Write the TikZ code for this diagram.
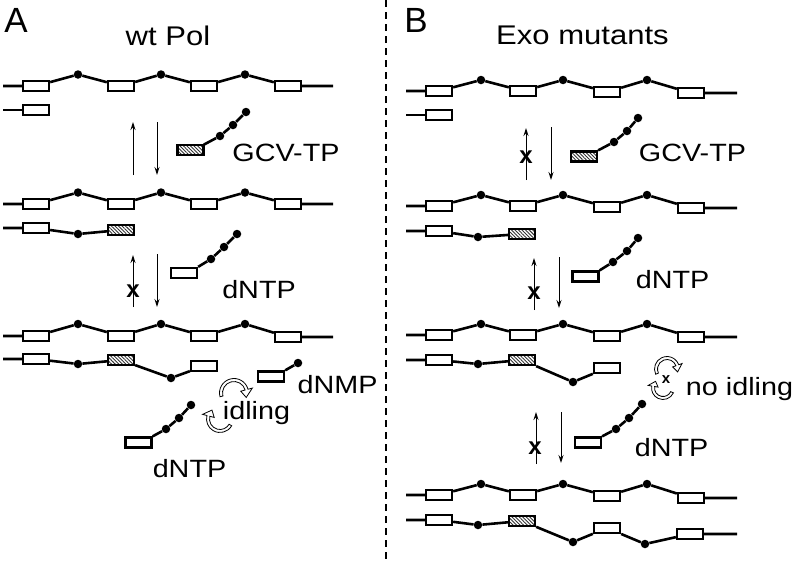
\documentclass[tikz,border=0pt]{standalone}
\usepackage{fontspec}
\setmainfont{Liberation Sans}
\usetikzlibrary{arrows.meta,patterns.meta}

\begin{document}
\begin{tikzpicture}[x = 1pt, y = -1pt,
						nt/.style = {rectangle, draw, line width = 2.5pt, 
						minimum width = 25.8pt, minimum height = 9.8pt, inner sep = 0pt},
						gcv/.style = {nt, pattern = {Lines[angle = -45, distance = 2.5pt, 
						line width = 0.9pt]}, pattern color = black!80},
						bead/.style = {circle, fill, inner sep = 0pt, minimum size = 8.5pt},
						strand/.style = {line width = 2.6pt},
						rxn/.style = {line width = 1pt, -{Stealth[length = 8pt, width = 5pt]}},
						blocked/.style = {font = \fontsize{24}{28}\selectfont\bfseries, inner sep = 0pt},
						lbl/.style = {font = \fontsize{25}{30}\selectfont, xscale = 1.15, inner sep = 0pt},
						ttl/.style = {font = \fontsize{27}{32}\selectfont, xscale = 1.15, inner sep = 0pt},
						pnl/.style = {font = \fontsize{35}{40}\selectfont, inner sep = 0pt},
						ring/.style = {draw, fill = white, line width = 0.8pt, line join = miter}]

				\useasboundingbox (0,0) rectangle (797,560);

				% separator
				\coordinate (sep_t) at (386,0);
				\coordinate (sep_b) at (386,560);
				\draw [line width = 1.8pt, dash pattern = on 7pt off 5pt] (sep_t) -- (sep_b);

				% ---------- A: wt Pol ----------
				\node [pnl] (p_a) at (16,20) {A};
				\node [ttl] (t_a) at (168,36) {wt Pol};

				\coordinate (a1_0) at (3,86);
				\node [nt] (a1_1) at (36,86) {};
				\node [bead] (a1_2) at (78,74.5) {};
				\node [nt] (a1_3) at (121,86) {};
				\node [bead] (a1_4) at (161,74.5) {};
				\node [nt] (a1_5) at (204,86) {};
				\node [bead] (a1_6) at (245,74.5) {};
				\node [nt] (a1_7) at (288,86) {};
				\coordinate (a1_8) at (333,86);
				\draw [strand] (a1_0) -- (a1_1) -- (a1_2) -- (a1_3) -- (a1_4) -- (a1_5) -- (a1_6) -- (a1_7) -- (a1_8);

				\coordinate (a2_0) at (3,110);
				\node [nt] (a2_1) at (36,110) {};
				\draw [strand] (a2_0) -- (a2_1);

				\coordinate (r1_a) at (133,175);
				\coordinate (r1_b) at (133,122);
				\coordinate (r2_a) at (157,122);
				\coordinate (r2_b) at (157,175);
				\draw [rxn] (r1_a) -- (r1_b);
				\draw [rxn] (r2_a) -- (r2_b);

				\node [gcv] (g_1) at (190.5,150) {};
				\node [bead] (g_2) at (220,136) {};
				\node [bead] (g_3) at (233,125) {};
				\node [bead] (g_4) at (246,112) {};
				\draw [strand] (g_1.north east) -- (g_2) -- (g_3) -- (g_4);
				\node [lbl] (l_1) at (286,153) {GCV-TP};

				\coordinate (a3_0) at (3,204);
				\node [nt] (a3_1) at (36,204) {};
				\node [bead] (a3_2) at (78,192.5) {};
				\node [nt] (a3_3) at (121,204) {};
				\node [bead] (a3_4) at (161,192.5) {};
				\node [nt] (a3_5) at (204,204) {};
				\node [bead] (a3_6) at (245,192.5) {};
				\node [nt] (a3_7) at (288,204) {};
				\coordinate (a3_8) at (333,204);
				\draw [strand] (a3_0) -- (a3_1) -- (a3_2) -- (a3_3) -- (a3_4) -- (a3_5) -- (a3_6) -- (a3_7) -- (a3_8);

				\coordinate (a4_0) at (3,228);
				\node [nt] (a4_1) at (36,228) {};
				\node [bead] (a4_2) at (78,234) {};
				\node [gcv] (a4_3) at (121,230) {};
				\draw [strand] (a4_0) -- (a4_1) -- (a4_2) -- (a4_3);

				\coordinate (r3_a) at (133,307);
				\coordinate (r3_b) at (133,255);
				\coordinate (r4_a) at (157,254);
				\coordinate (r4_b) at (157,307);
				\draw [rxn] (r3_a) -- (r3_b);
				\draw [rxn] (r4_a) -- (r4_b);
				\node [blocked] (x_1) at (133,291) {x};

				\node [nt] (n_1) at (184,273) {};
				\node [bead] (n_2) at (211,259) {};
				\node [bead] (n_3) at (224,247) {};
				\node [bead] (n_4) at (237,234) {};
				\draw [strand] (n_1.north east) -- (n_2) -- (n_3) -- (n_4);
				\node [lbl] (l_2) at (259,290) {dNTP};

				\coordinate (a5_0) at (3,336);
				\node [nt] (a5_1) at (36,336) {};
				\node [bead] (a5_2) at (78,324) {};
				\node [nt] (a5_3) at (121,336) {};
				\node [bead] (a5_4) at (161,324) {};
				\node [nt] (a5_5) at (204,336) {};
				\node [bead] (a5_6) at (245,324) {};
				\node [nt] (a5_7) at (288,337) {};
				\coordinate (a5_8) at (333,337);
				\draw [strand] (a5_0) -- (a5_1) -- (a5_2) -- (a5_3) -- (a5_4) -- (a5_5) -- (a5_6) -- (a5_7) -- (a5_8);

				\coordinate (a6_0) at (3,359);
				\node [nt] (a6_1) at (36,359) {};
				\node [bead] (a6_2) at (78,364) {};
				\node [gcv] (a6_3) at (121,360) {};
				\node [bead] (a6_4) at (171,378) {};
				\node [nt] (a6_5) at (204,366) {};
				\draw [strand] (a6_0) -- (a6_1) -- (a6_2) -- (a6_3) -- (a6_4) -- (a6_5);

				\node [nt] (m_1) at (271,376.5) {};
				\node [bead] (m_2) at (298,363) {};
				\draw [strand] (m_1.north east) -- (m_2);
				\node [lbl] (l_3) at (337.5,384.5) {dNMP};

				% idling
				\coordinate (i_1) at (234,393);
				\coordinate (i_2) at (220,419);
				\draw [ring] ([shift={(165:14.5)}]i_1) arc [start angle = 165, end angle = 345, radius = 14.5]
						-- ([shift={(345:19)}]i_1) -- ([shift={(380:13)}]i_1) -- ([shift={(345:7)}]i_1)
						-- ([shift={(345:11.5)}]i_1) arc [start angle = 345, end angle = 165, radius = 11.5] -- cycle;
				\draw [ring] ([shift={(30:13.5)}]i_2) arc [start angle = 30, end angle = 195, radius = 13.5]
						-- ([shift={(195:18)}]i_2) -- ([shift={(228:12)}]i_2) -- ([shift={(195:6)}]i_2)
						-- ([shift={(195:10.5)}]i_2) arc [start angle = 195, end angle = 30, radius = 10.5] -- cycle;
				\node [lbl] (l_4) at (256.5,413) {idling};

				\node [nt] (n_5) at (138.5,442.5) {};
				\node [bead] (n_6) at (166,429) {};
				\node [bead] (n_7) at (179,418) {};
				\node [bead] (n_8) at (191,405) {};
				\draw [strand] (n_5.north east) -- (n_6) -- (n_7) -- (n_8);
				\node [lbl] (l_5) at (189.5,468.5) {dNTP};

				% ---------- B: Exo mutants ----------
				\node [pnl] (p_b) at (416,20) {B};
				\node [ttl] (t_b) at (582.5,35) {Exo mutants};

				\coordinate (b1_0) at (406,91);
				\node [nt] (b1_1) at (439,91) {};
				\node [bead] (b1_2) at (481,80) {};
				\node [nt] (b1_3) at (523,91) {};
				\node [bead] (b1_4) at (563,80) {};
				\node [nt] (b1_5) at (607,92) {};
				\node [bead] (b1_6) at (647,80) {};
				\node [nt] (b1_7) at (691,93) {};
				\coordinate (b1_8) at (737,93);
				\draw [strand] (b1_0) -- (b1_1) -- (b1_2) -- (b1_3) -- (b1_4) -- (b1_5) -- (b1_6) -- (b1_7) -- (b1_8);

				\coordinate (b2_0) at (406,115);
				\node [nt] (b2_1) at (439,115) {};
				\draw [strand] (b2_0) -- (b2_1);

				\coordinate (s1_a) at (526,180);
				\coordinate (s1_b) at (526,128);
				\coordinate (s2_a) at (551,127);
				\coordinate (s2_b) at (551,180);
				\draw [rxn] (s1_a) -- (s1_b);
				\draw [rxn] (s2_a) -- (s2_b);
				\node [blocked] (x_2) at (526,157) {x};

				\node [gcv] (g_5) at (584,156.5) {};
				\node [bead] (g_6) at (614,142) {};
				\node [bead] (g_7) at (627,131) {};
				\node [bead] (g_8) at (638,118) {};
				\draw [strand] (g_5.north east) -- (g_6) -- (g_7) -- (g_8);
				\node [lbl] (l_6) at (692.5,152.5) {GCV-TP};

				\coordinate (b3_0) at (406,206);
				\node [nt] (b3_1) at (439,206) {};
				\node [bead] (b3_2) at (481,195) {};
				\node [nt] (b3_3) at (523,206) {};
				\node [bead] (b3_4) at (563,195) {};
				\node [nt] (b3_5) at (607,207) {};
				\node [bead] (b3_6) at (647,195) {};
				\node [nt] (b3_7) at (691,208) {};
				\coordinate (b3_8) at (737,208);
				\draw [strand] (b3_0) -- (b3_1) -- (b3_2) -- (b3_3) -- (b3_4) -- (b3_5) -- (b3_6) -- (b3_7) -- (b3_8);

				\coordinate (b4_0) at (406,231);
				\node [nt] (b4_1) at (439,231) {};
				\node [bead] (b4_2) at (478,237) {};
				\node [gcv] (b4_3) at (522,234) {};
				\draw [strand] (b4_0) -- (b4_1) -- (b4_2) -- (b4_3);

				\coordinate (s3_a) at (534,310);
				\coordinate (s3_b) at (534,258);
				\coordinate (s4_a) at (559,257);
				\coordinate (s4_b) at (559,308);
				\draw [rxn] (s3_a) -- (s3_b);
				\draw [rxn] (s4_a) -- (s4_b);
				\node [blocked] (x_3) at (534,293) {x};

				\node [nt] (n_9) at (585.5,276.5) {};
				\node [bead] (n_10) at (613,262) {};
				\node [bead] (n_11) at (627,251) {};
				\node [bead] (n_12) at (638,238) {};
				\draw [strand] (n_9.north east) -- (n_10) -- (n_11) -- (n_12);
				\node [lbl] (l_7) at (672.5,280) {dNTP};

				\coordinate (b5_0) at (406,335);
				\node [nt] (b5_1) at (439,335) {};
				\node [bead] (b5_2) at (481,324) {};
				\node [nt] (b5_3) at (523,335) {};
				\node [bead] (b5_4) at (563,324) {};
				\node [nt] (b5_5) at (607,336) {};
				\node [bead] (b5_6) at (647,324) {};
				\node [nt] (b5_7) at (691,337) {};
				\coordinate (b5_8) at (737,337);
				\draw [strand] (b5_0) -- (b5_1) -- (b5_2) -- (b5_3) -- (b5_4) -- (b5_5) -- (b5_6) -- (b5_7) -- (b5_8);

				\coordinate (b6_0) at (406,360);
				\node [nt] (b6_1) at (439,360) {};
				\node [bead] (b6_2) at (478,364) {};
				\node [gcv] (b6_3) at (522,360) {};
				\node [bead] (b6_4) at (573,382) {};
				\node [nt] (b6_5) at (607,368) {};
				\draw [strand] (b6_0) -- (b6_1) -- (b6_2) -- (b6_3) -- (b6_4) -- (b6_5);

				% no idling
				\coordinate (i_3) at (667,369);
				\coordinate (i_4) at (663,388);
				\draw [ring] ([shift={(155:12.5)}]i_3) arc [start angle = 155, end angle = 340, radius = 12.5]
						-- ([shift={(340:16)}]i_3) -- ([shift={(375:11)}]i_3) -- ([shift={(340:6)}]i_3)
						-- ([shift={(340:9.5)}]i_3) arc [start angle = 340, end angle = 155, radius = 9.5] -- cycle;
				\draw [ring] ([shift={(25:11.5)}]i_4) arc [start angle = 25, end angle = 190, radius = 11.5]
						-- ([shift={(190:15)}]i_4) -- ([shift={(222:10)}]i_4) -- ([shift={(190:5)}]i_4)
						-- ([shift={(190:8.5)}]i_4) arc [start angle = 190, end angle = 25, radius = 8.5] -- cycle;
				\node [blocked, font = \fontsize{15}{18}\selectfont\bfseries] (x_4) at (666,380) {x};
				\node [lbl] (l_8) at (739.5,389.5) {no idling};

				\coordinate (s5_a) at (536,464);
				\coordinate (s5_b) at (536,412);
				\coordinate (s6_a) at (561,412);
				\coordinate (s6_b) at (561,463);
				\draw [rxn] (s5_a) -- (s5_b);
				\draw [rxn] (s6_a) -- (s6_b);
				\node [blocked] (x_5) at (535,448) {x};

				\node [nt] (n_13) at (588,442.5) {};
				\node [bead] (n_14) at (616,429) {};
				\node [bead] (n_15) at (629,418) {};
				\node [bead] (n_16) at (642,404) {};
				\draw [strand] (n_13.north east) -- (n_14) -- (n_15) -- (n_16);
				\node [lbl] (l_9) at (671.5,448) {dNTP};

				\coordinate (b7_0) at (406,495);
				\node [nt] (b7_1) at (439,495) {};
				\node [bead] (b7_2) at (481,484) {};
				\node [nt] (b7_3) at (523,495) {};
				\node [bead] (b7_4) at (563,484) {};
				\node [nt] (b7_5) at (607,496) {};
				\node [bead] (b7_6) at (647,484) {};
				\node [nt] (b7_7) at (691,498) {};
				\coordinate (b7_8) at (737,498);
				\draw [strand] (b7_0) -- (b7_1) -- (b7_2) -- (b7_3) -- (b7_4) -- (b7_5) -- (b7_6) -- (b7_7) -- (b7_8);

				\coordinate (b8_0) at (406,520);
				\node [nt] (b8_1) at (439,520) {};
				\node [bead] (b8_2) at (478,525) {};
				\node [gcv] (b8_3) at (522,521) {};
				\node [bead] (b8_4) at (573,542) {};
				\node [nt] (b8_5) at (607,528) {};
				\node [bead] (b8_6) at (645,544) {};
				\node [nt] (b8_7) at (690,534) {};
				\coordinate (b8_8) at (737,534);
				\draw [strand] (b8_0) -- (b8_1) -- (b8_2) -- (b8_3) -- (b8_4) -- (b8_5) -- (b8_6) -- (b8_7) -- (b8_8);
			\end{tikzpicture}
\end{document}
